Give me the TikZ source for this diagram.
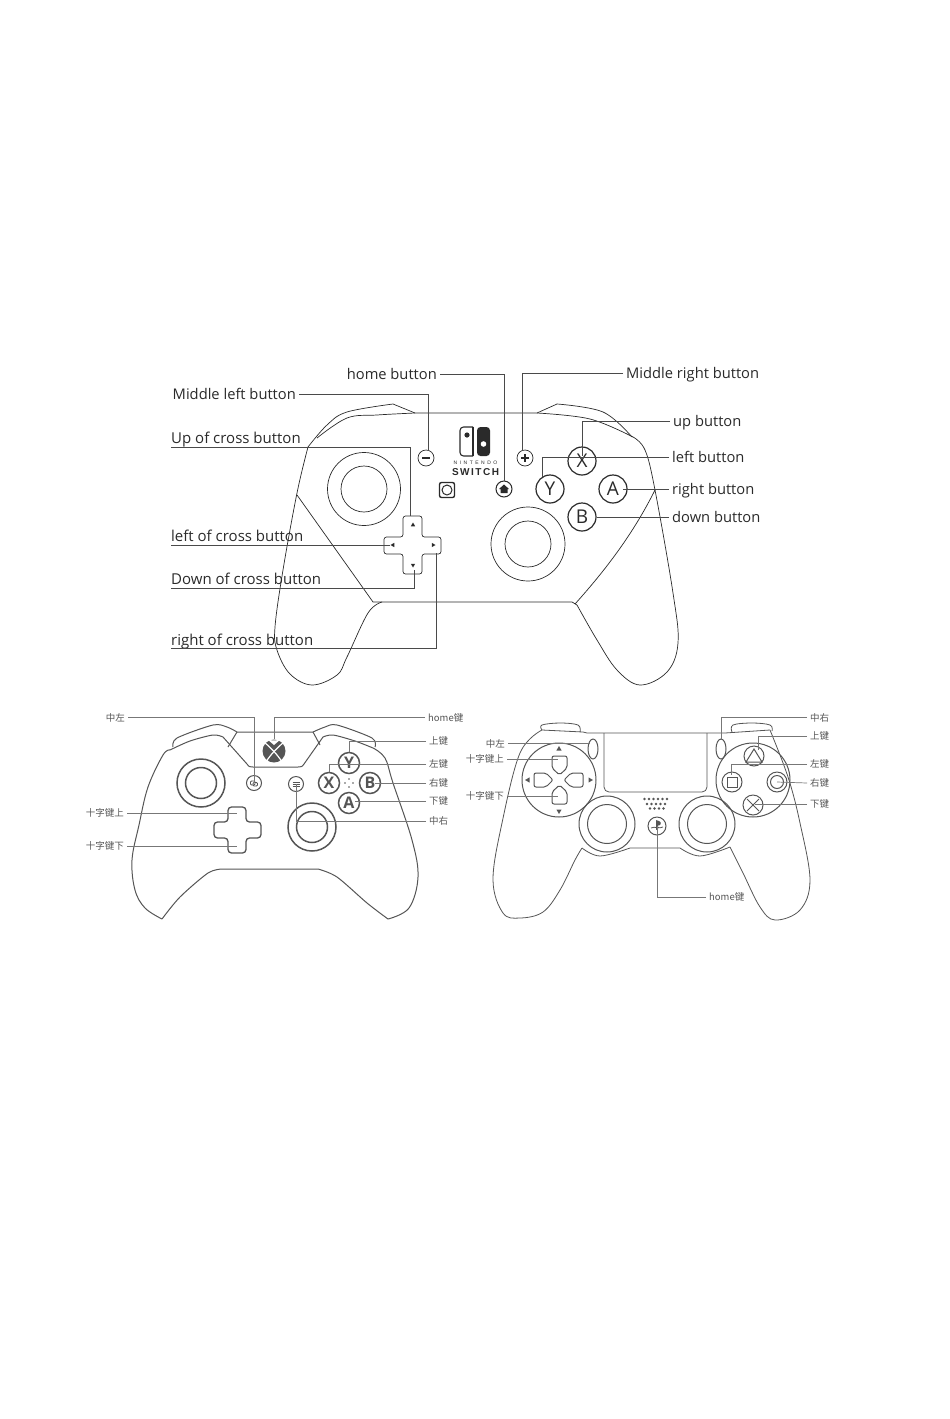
\documentclass[tikz,border=0pt]{standalone}
\usepackage{fontspec}
\setmainfont{Open Sans}
\newfontfamily\cjk{Noto Sans CJK SC}
\newfontfamily\nintendofont[LetterSpace=50]{Liberation Sans}
\newfontfamily\switchfont[LetterSpace=15]{Liberation Sans}
\usetikzlibrary{shapes.geometric}
\definecolor{swink}{HTML}{2A2A2A}
\definecolor{padink}{HTML}{555555}
\tikzset{
	swline/.style={draw=swink,line width=.7pt},
	leader/.style={draw=swink!85!white,line width=.9pt},
	padleader/.style={draw=padink!80!white,line width=.7pt},
	padline/.style={draw=padink,line width=1pt},
	swlabel/.style={inner ysep=0pt,inner xsep=3pt,text height=10pt,text depth=0pt,font=\fontsize{14.7}{16}\selectfont,text=swink},
	swunder/.style={anchor=south west,inner ysep=3pt,inner xsep=0pt,text depth=0pt,font=\fontsize{15}{16}\selectfont,text=swink},
	padlabel/.style={inner ysep=0pt,inner xsep=3pt,text height=7pt,text depth=0pt,font=\cjk\fontsize{9.5}{11}\selectfont,text=padink},
	swbtn/.style={circle,swline,line width=1.2pt,minimum size=28pt,inner sep=0pt,font=\fontsize{19}{19}\selectfont,text=swink},
	swsmall/.style={circle,swline,minimum size=16pt,inner sep=0pt},
	xbbtn/.style={circle,padline,line width=1.5pt,minimum size=21pt,inner sep=0pt,font=\bfseries\fontsize{16}{16}\selectfont,text=padink},
	xbsmall/.style={circle,padline,minimum size=15pt,inner sep=0pt},
	psbtn/.style={circle,padline,minimum size=20pt,inner sep=0pt},
	tip/.style={regular polygon,regular polygon sides=3,fill=#1,inner sep=0pt,minimum size=6pt},
	stickring/.style={circle,inner sep=0pt},
}
\begin{document}
\begin{tikzpicture}[x=1pt,y=-1pt]
	\useasboundingbox (0,0) rectangle (950,1419);

	% top controller
	\draw[swline] plot[smooth,tension=.6] coordinates {(308,447) (327,425) (347,412) (393,404)} -- (415,413) -- (537,413) -- (557,404) plot[smooth,tension=.6] coordinates {(557,404) (603,412) (632,437)};
	\draw[swline] plot[smooth,tension=.6] coordinates {(317,438) (347,418) (377,415) (415,413)};
	\draw[swline] plot[smooth,tension=.6] coordinates {(537,413) (590,419) (633,437)};
	\draw[swline] plot[smooth,tension=.6] coordinates {(633,437) (645,450) (655,490) (673,593) (678,643) (667,672) (640,685) (617,670) (597,640) (577,605)};
	\draw[swline] plot[smooth,tension=.6] coordinates {(308,447) (297,493) (283,570) (275,627) (277,650) (290,674) (312,685) (337,675) (347,657) (368,613) (382,602)} -- (572,602) -- (577,605);
	\draw[swline] (297,495) -- (373,602) -- (382,602);
	\draw[swline] (575,604) .. controls (610,565) and (635,530) .. (655,490);

	% sticks
	\node[stickring,swline,minimum size=73pt] (swStickL) at (364,489) {};
	\node[stickring,swline,minimum size=46pt] (swStickLin) at (364,489) {};
	\node[stickring,swline,minimum size=74pt] (swStickR) at (528,544) {};
	\node[stickring,swline,minimum size=46pt] (swStickRin) at (528,544) {};

	% cross button
	\draw[swline,rounded corners=2.5pt] (403,516) -- (422,516) -- (422,537) -- (441,537) -- (441,554) -- (422,554) -- (422,574) -- (403,574) -- (403,554) -- (384,554) -- (384,537) -- (403,537) -- cycle;
	\node[tip=swink,minimum size=5pt] (swTipU) at (413,525) {};
	\node[tip=swink,minimum size=5pt,shape border rotate=90] (swTipL) at (393,545) {};
	\node[tip=swink,minimum size=5pt,shape border rotate=-90] (swTipR) at (433,545) {};
	\node[tip=swink,minimum size=5pt,shape border rotate=180] (swTipD) at (413,565) {};

	% small buttons
	\node[swsmall] (swMinus) at (426,458) {};
	\draw[swink,line width=1.8pt] (422,458) -- (430,458);
	\node[swsmall] (swPlus) at (525,458) {};
	\draw[swink,line width=1.8pt] (521,458) -- (529,458) (525,454) -- (525,462);
	\node[swsmall,line width=1pt] (swHome) at (504,489) {};
	\fill[swink] (504,484.5) -- (509,489) -- (507.5,489) -- (507.5,493) -- (500.5,493) -- (500.5,489) -- (499,489) -- cycle;
	\node[rectangle,rounded corners=2pt,draw=swink,line width=1.4pt,minimum size=15pt,inner sep=0pt] (swShot) at (447,490) {};
	\node[stickring,swline,line width=1pt,minimum size=10pt] (swShotIn) at (447,490) {};

	% logo
	\draw[swink,line width=1.1pt,rounded corners=3.5pt] (473,427) -- (460,427) -- (460,456) -- (473,456);
	\draw[swink,line width=1.1pt] (473,427) -- (473,456);
	\fill[swink,rounded corners=3.5pt] (477,427) -- (490,427) -- (490,456) -- (477,456) -- cycle;
	\fill[swink] (467,435) circle (2.6);
	\fill[white] (483.5,444) circle (2.8);
	\node[inner sep=0pt,text=swink,font=\nintendofont\fontsize{5}{5}\selectfont] (swNin) at (475.5,463) {NINTENDO};
	\node[inner sep=0pt,text=swink,font=\switchfont\bfseries\fontsize{10}{10}\selectfont] (swSwi) at (475.5,472) {SWITCH};

	% face buttons
	\node[swbtn] (swX) at (582,461) {X};
	\node[swbtn] (swY) at (550,489) {Y};
	\node[swbtn] (swA) at (613,489) {A};
	\node[swbtn] (swB) at (582,517) {B};

	% labels of the top controller
	\node[swlabel,anchor=east] (lblHome) at (440,374) {home button};
	\node[swlabel,anchor=east] (lblMidL) at (299,394) {Middle left button};
	\node[swlabel,anchor=west] (lblMidR) at (623,373) {Middle right button};
	\node[swlabel,anchor=west] (lblUp) at (670,421) {up button};
	\node[swlabel,anchor=west] (lblLeft) at (669,457.5) {left button};
	\node[swlabel,anchor=west] (lblRight) at (669,489) {right button};
	\node[swlabel,anchor=west] (lblDown) at (669,517) {down button};
	\node[swunder] (lblCrossU) at (171,447) {Up of cross button};
	\node[swunder] (lblCrossL) at (171,545) {left of cross button};
	\node[swunder] (lblCrossD) at (171,588) {Down of cross button};
	\node[swunder] (lblCrossR) at (171,648.5) {right of cross button};

	\coordinate (endMinus) at (428,451);
	\coordinate (endPlus) at (522,451);
	\coordinate (endX) at (582,456);
	\coordinate (endY) at (542,477);
	\coordinate (endA) at (623,489);
	\coordinate (endCrossU) at (410,516);
	\coordinate (endCrossD) at (414,570);
	\coordinate (endCrossR) at (436,553);

	\draw[leader] (lblHome.east) -| (swHome.north);
	\draw[leader] (lblMidL.east) -| (endMinus);
	\draw[leader] (lblMidR.west) -| (endPlus);
	\draw[leader] (lblUp.west) -| (endX);
	\draw[leader] (lblLeft.west) -| (endY);
	\draw[leader] (lblRight.west) -- (endA);
	\draw[leader] (lblDown.west) -- (swB.east);
	\draw[leader] (lblCrossU.south west) -| (endCrossU);
	\draw[leader] (lblCrossL.south west) -- (swTipL);
	\draw[leader] (lblCrossD.south west) -| (endCrossD);
	\draw[leader] (lblCrossR.south west) -| (endCrossR);

	% left controller
	\draw[padline] plot[smooth,tension=.6] coordinates {(170,750) (163,755) (148,787) (139,825) (132,860) (135,890) (145,908) (162,919)};
	\draw[padline] plot[smooth,tension=.5] coordinates {(162,919) (180,897) (208,873) (222,869)} -- (318,869) plot[smooth,tension=.5] coordinates {(318,869) (337,877) (367,903) (388,919)};
	\draw[padline] plot[smooth,tension=.6] coordinates {(388,919) (409,908) (418,877) (412,840) (393,783) (385,758) (373,748)};
	\draw[padline] plot[smooth,tension=.5] coordinates {(170,750) (190,741) (213,735) (223,737)} -- (247,764) .. controls (249,767) and (250,767) .. (253,767) -- (298,767) .. controls (301,767) and (302,767) .. (304,764) -- (323,737) plot[smooth,tension=.5] coordinates {(323,737) (333,735) (355,741) (373,748)};
	\draw[padline] plot[smooth,tension=.5] coordinates {(173,747) (177,738) (213,725) (227,727) (237,732)} -- (313,732) plot[smooth,tension=.5] coordinates {(313,732) (325,727) (337,725) (372,738) (375,747)};
	\draw[padline] (237,732) -- (228,747);
	\draw[padline] (313,732) -- (320,745);
	\node[stickring,padline,line width=1.5pt,minimum size=48pt] (xbStickL) at (201,783) {};
	\node[stickring,padline,line width=1.5pt,minimum size=31pt] (xbStickLin) at (201,783) {};
	\node[stickring,padline,line width=1.5pt,minimum size=48pt] (xbStickR) at (312,827) {};
	\node[stickring,padline,line width=1.5pt,minimum size=31pt] (xbStickRin) at (312,827) {};
	\draw[padline,line width=1.3pt,rounded corners=3.5pt] (228,807) -- (246,807) -- (246,822) -- (261,822) -- (261,838) -- (246,838) -- (246,853) -- (228,853) -- (228,838) -- (214,838) -- (214,822) -- (228,822) -- cycle;
	\node[xbsmall] (xbView) at (254,783) {};
	\node[xbsmall] (xbMenu) at (296,784) {};
	\draw[padink,line width=.8pt] (292.5,782) -- (299.5,782) (292.5,784) -- (299.5,784) (292.5,786) -- (299.5,786);
	\draw[padink,line width=.8pt,rounded corners=1pt] (250.5,781) rectangle (255,785);
	\draw[padink,line width=.8pt,rounded corners=1pt] (253,782.5) rectangle (257.5,786);
	\node[xbbtn] (xbY) at (349,763) {Y};
	\node[xbbtn] (xbX) at (329,783) {X};
	\node[xbbtn] (xbB) at (370,783) {B};
	\node[xbbtn] (xbA) at (349,803) {A};
	\foreach \dx/\dy in {-4/0,4/0,0/-4,0/4}
		\fill[padink] (349+\dx,783+\dy) circle (.9);
	\node[circle,fill=padink,minimum size=23pt,inner sep=0pt] (xbLogo) at (274,751) {};
	\draw[white,line width=1.2pt] (264,742) .. controls (270,747) and (278,755) .. (282,762);
	\draw[white,line width=1.2pt] (284,742) .. controls (278,747) and (270,755) .. (266,762);
	\fill[white] (267,739) .. controls (271,741) and (277,741) .. (281,739) -- (274,745) -- cycle;

	\node[padlabel,anchor=east] (xbLblMidL) at (128,717.5) {中左};
	\node[padlabel,anchor=west] (xbLblHome) at (425,717.5) {home键};
	\node[padlabel,anchor=west] (xbLblUp) at (426,741) {上键};
	\node[padlabel,anchor=west] (xbLblLeft) at (426,764) {左键};
	\node[padlabel,anchor=west] (xbLblRight) at (426,783) {右键};
	\node[padlabel,anchor=west] (xbLblDown) at (426,801) {下键};
	\node[padlabel,anchor=west] (xbLblMidR) at (426,821) {中右};
	\node[padlabel,anchor=east] (xbLblCrossU) at (127,813) {十字键上};
	\node[padlabel,anchor=east] (xbLblCrossD) at (127,846) {十字键下};

	\coordinate (xbEndB) at (375,783);
	\coordinate (xbEndA) at (355,801);
	\coordinate (xbEndCrossU) at (237,813);
	\coordinate (xbEndCrossD) at (237,846);

	\draw[padleader] (xbLblMidL.east) -| (xbView.center);
	\draw[padleader] (xbLblHome.west) -| (xbLogo.north);
	\draw[padleader] (xbLblUp.west) -| (xbY.north);
	\draw[padleader] (xbLblLeft.west) -| (xbX.north);
	\draw[padleader] (xbLblRight.west) -- (xbEndB);
	\draw[padleader] (xbLblDown.west) -- (xbEndA);
	\draw[padleader] (xbLblMidR.west) -| (xbMenu.center);
	\draw[padleader] (xbLblCrossU.east) -- (xbEndCrossU);
	\draw[padleader] (xbLblCrossD.east) -- (xbEndCrossD);

	% right controller
	\draw[padline,line width=.8pt] plot[smooth,tension=.6] coordinates {(542,730) (520,753) (502,823) (493,880) (503,913) (520,918) (543,912) (560,890) (575,860) (582,848)};
	\draw[padline,line width=.8pt] plot[smooth,tension=.6] coordinates {(582,848) (600,856) (630,848)} -- (680,848) plot[smooth,tension=.6] coordinates {(680,848) (700,856) (730,847)};
	\draw[padline,line width=.8pt] plot[smooth,tension=.6] coordinates {(730,847) (743,873) (760,907) (775,920) (800,910) (810,880) (800,823) (788,777) (770,730)};
	\draw[padline,line width=.8pt] (542,730) -- (583,732) -- (587,733) -- (725,733) -- (770,730);
	\draw[padline,line width=.8pt] plot[smooth,tension=.6] coordinates {(542,730) (542,725) (560,723) (578,725) (580,732)};
	\draw[padline,line width=.8pt] plot[smooth,tension=.6] coordinates {(732,732) (733,725) (752,723) (770,725) (772,731)};
	\draw[padline,line width=.8pt,rounded corners=5pt] (604,733) -- (604,792) -- (707,792) -- (707,733);
	\node[stickring,padline,minimum size=74pt] (psPadL) at (559,780) {};
	\node[stickring,padline,minimum size=74pt] (psPadR) at (753,780) {};
	\node[stickring,padline,minimum size=56pt] (psStickL) at (607,824) {};
	\node[stickring,padline,minimum size=39pt] (psStickLin) at (607,824) {};
	\node[stickring,padline,minimum size=56pt] (psStickR) at (707,824) {};
	\node[stickring,padline,minimum size=39pt] (psStickRin) at (707,824) {};
	\node[ellipse,padline,minimum width=10pt,minimum height=20pt,inner sep=0pt] (psMidL) at (593,749) {};
	\node[ellipse,padline,minimum width=10pt,minimum height=20pt,inner sep=0pt] (psMidR) at (721,749) {};

	% cross pieces
	\draw[padline,rounded corners=2pt] (552,756) -- (567,756) -- (567,768) -- (559.5,775) -- (552,768) -- cycle;
	\draw[padline,rounded corners=2pt] (552,804) -- (567,804) -- (567,792) -- (559.5,785) -- (552,792) -- cycle;
	\draw[padline,rounded corners=2pt] (534,773) -- (546,773) -- (553,780) -- (546,787) -- (534,787) -- cycle;
	\draw[padline,rounded corners=2pt] (583,773) -- (571,773) -- (564,780) -- (571,787) -- (583,787) -- cycle;
	\node[tip=padink] (psTipU) at (559,749) {};
	\node[tip=padink,shape border rotate=180] (psTipD) at (559,811) {};
	\node[tip=padink,shape border rotate=90] (psTipL) at (528,780) {};
	\node[tip=padink,shape border rotate=-90] (psTipR) at (590,780) {};

	% face buttons
	\node[psbtn] (psTri) at (754,756) {};
	\draw[padline] (746,762) -- (754,749) -- (762,762) -- cycle;
	\node[psbtn] (psSq) at (732,782) {};
	\draw[padline] (727,777) rectangle (737,787);
	\node[psbtn] (psCir) at (777,782) {};
	\node[stickring,padline,minimum size=13pt] (psCirIn) at (777,782) {};
	\node[psbtn] (psCro) at (753,805) {};
	\draw[padline] (747,799) -- (759,811) (759,799) -- (747,811);

	% speaker
	\foreach \x in {644.5,649,...,668}
		\fill[padink] (\x,799) circle (1.4);
	\foreach \x in {647,651.5,...,667}
		\fill[padink] (\x,804) circle (1.4);
	\foreach \x in {650,654.5,...,664}
		\fill[padink] (\x,808.5) circle (1.4);
	\node[circle,padline,minimum size=18pt,inner sep=0pt] (psHome) at (657,826) {};
	\fill[padink] (656,820) -- (659,821) .. controls (662,822) and (661,826) .. (658,825.5) -- (658,829) -- (656,830) -- cycle;
	\draw[padink,line width=.8pt] (651,828) .. controls (654,826) and (660,829) .. (663,827);

	\node[padlabel,anchor=east] (psLblMidL) at (508,743.5) {中左};
	\node[padlabel,anchor=east] (psLblCrossU) at (507,759) {十字键上};
	\node[padlabel,anchor=east] (psLblCrossD) at (507,796) {十字键下};
	\node[padlabel,anchor=west] (psLblMidR) at (807,717.5) {中右};
	\node[padlabel,anchor=west] (psLblUp) at (807,736) {上键};
	\node[padlabel,anchor=west] (psLblLeft) at (807,764) {左键};
	\node[padlabel,anchor=west] (psLblRight) at (807,783) {右键};
	\node[padlabel,anchor=west] (psLblDown) at (807,804) {下键};
	\node[padlabel,anchor=west] (psLblHome) at (706,897) {home键};

	\coordinate (psEndMidL) at (590,743.5);
	\coordinate (psEndCrossU) at (558,759);
	\coordinate (psEndCrossD) at (558,796);
	\coordinate (psEndUp) at (758,750);
	\coordinate (psEndLeft) at (731,775);
	\coordinate (psEndDown) at (755,804);

	\draw[padleader] (psLblMidL.east) -- (psEndMidL);
	\draw[padleader] (psLblCrossU.east) -- (psEndCrossU);
	\draw[padleader] (psLblCrossD.east) -- (psEndCrossD);
	\draw[padleader] (psLblMidR.west) -| (psMidR.north);
	\draw[padleader] (psLblUp.west) -| (psEndUp);
	\draw[padleader] (psLblLeft.west) -| (psEndLeft);
	\draw[padleader] (psLblRight.west) -- (psCir.center);
	\draw[padleader] (psLblDown.west) -- (psEndDown);
	\draw[padleader] (psLblHome.west) -| (psHome.center);
\end{tikzpicture}
\end{document}
